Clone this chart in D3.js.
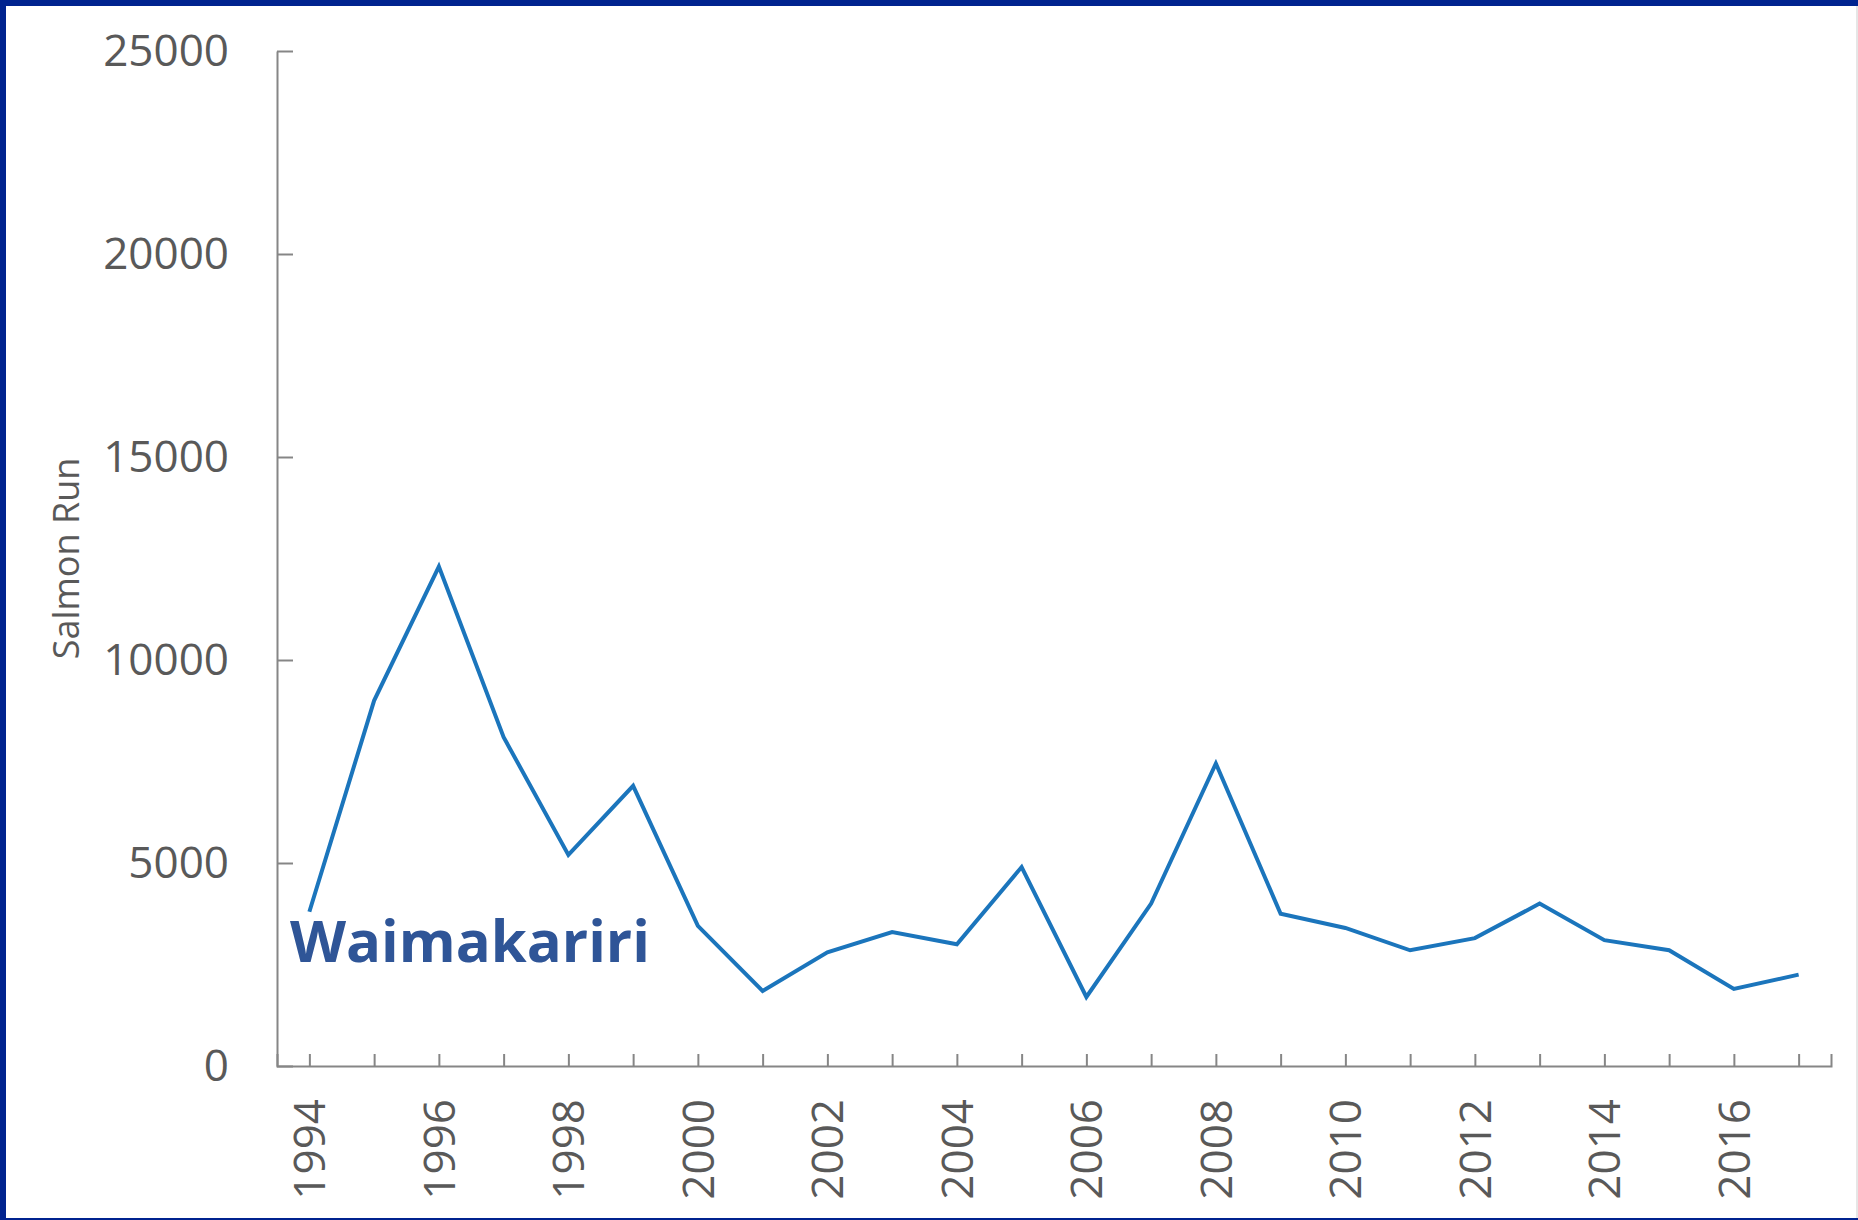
<!DOCTYPE html>
<html>
<head>
<meta charset="utf-8">
<script src="https://cdn.jsdelivr.net/npm/d3@7"></script>
<style>
  body { margin: 0; background: #fff; }
  svg { display: block; }
</style>
</head>
<body>
<div id="chart"></div>
<script>
// salmon run counts
const years = [1994, 1995, 1996, 1997, 1998, 1999, 2000, 2001, 2002, 2003, 2004, 2005,
  2006, 2007, 2008, 2009, 2010, 2011, 2012, 2013, 2014, 2015, 2016, 2017];
const salmonRun = [3800, 9000, 12300, 8100, 5200, 6900, 3450, 1850, 2800, 3300, 3000, 4900,
  1700, 4000, 7450, 3750, 3400, 2850, 3150, 4000, 3100, 2850, 1900, 2250];
const yTicks = [0, 5000, 10000, 15000, 20000, 25000];
const riverName = "Waimakariri";
const yTitle = "Salmon Run";

let width = 1858, height = 1220;
let axisColor = "#868686", textColor = "#595959";
let font = "'Open Sans', sans-serif";

let svg = d3.select("#chart").append("svg")
  .attr("width", width)
  .attr("height", height);

// frame like a slide border: blue top/left/bottom, light edge on the right
svg.append("rect").attr("x", 0).attr("y", 0).attr("width", width).attr("height", height).attr("fill", "#00238f");
svg.append("rect").attr("x", 6).attr("y", 6).attr("width", width - 6).attr("height", height - 8).attr("fill", "#fff");
svg.append("rect").attr("x", width - 2).attr("y", 6).attr("width", 2).attr("height", height - 8).attr("fill", "#e6e6e6");

let x = d3.scalePoint().domain(years).range([277, 1831]).padding(0.5);
let y = d3.scaleLinear().domain([0, 25000]).range([1066, 51]);

// y axis, ticks pointing inward
let yAxis = svg.append("g")
  .attr("transform", "translate(277,0)")
  .call(d3.axisLeft(y).tickValues(yTicks).tickSizeInner(-16).tickSizeOuter(0).tickPadding(48).tickFormat(d3.format("d")));
yAxis.select(".domain").attr("stroke", axisColor).attr("stroke-width", 2);
yAxis.selectAll(".tick line").attr("stroke", axisColor).attr("stroke-width", 2);
yAxis.selectAll(".tick text")
  .attr("fill", textColor)
  .attr("style", "font: 44px " + font);

// x axis, ticks at every year, labels on even years
let xAxis = svg.append("g")
  .attr("transform", "translate(0,1066)")
  .call(d3.axisBottom(x).tickSizeInner(-12).tickSizeOuter(-12).tickFormat(d => d % 2 == 0 ? d : ""));
xAxis.select(".domain").attr("stroke", axisColor).attr("stroke-width", 2).attr("fill", "none");
xAxis.selectAll(".tick line").attr("stroke", axisColor).attr("stroke-width", 2);
xAxis.selectAll(".tick text")
  .attr("transform", "rotate(-90)")
  .attr("x", -33)
  .attr("y", 0)
  .attr("dy", "0.35em")
  .attr("text-anchor", "end")
  .attr("fill", textColor)
  .attr("style", "font: 44px " + font);

// axis title
svg.append("text")
  .attr("transform", "translate(69," + (y(12500)) + ") rotate(-90)")
  .attr("text-anchor", "middle")
  .attr("dominant-baseline", "middle")
  .attr("fill", textColor)
  .attr("style", "font: 36px " + font)
  .text(yTitle);

// the run line
let line = d3.line()
  .x((d, i) => x(years[i]))
  .y(d => y(d));
svg.append("path")
  .datum(salmonRun)
  .attr("d", line)
  .attr("fill", "none")
  .attr("stroke", "#1b75bc")
  .attr("stroke-width", 4)
  .attr("stroke-linejoin", "miter");

// river name
svg.append("text")
  .attr("x", 290)
  .attr("y", 962)
  .attr("fill", "#2f5597")
  .attr("style", "font: bold 58px " + font)
  .text(riverName);
</script>
</body>
</html>
